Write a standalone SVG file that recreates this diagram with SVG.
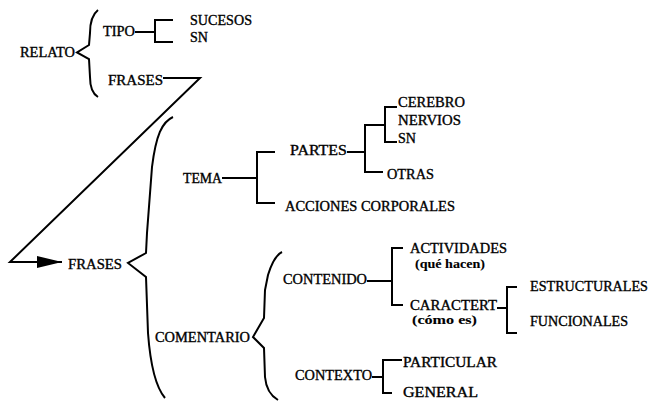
<svg xmlns="http://www.w3.org/2000/svg" width="652" height="401" viewBox="0 0 652 401">
  <style>
    text { font-family: 'Liberation Serif', 'Times New Roman', Times, 'DejaVu Serif', serif; fill: #000; stroke: #000; stroke-width: 0.35; }
    .t { font-size: 14px; }
    .s { font-size: 12px; font-weight: bold; stroke-width: 0.1; }
    .ln { fill: none; stroke: #000; stroke-width: 2; stroke-linejoin: miter; stroke-linecap: butt; }
  </style>
  <defs>
    <marker id="arrow" viewBox="0 0 25 12" refX="25" refY="6" markerWidth="25" markerHeight="12" markerUnits="userSpaceOnUse" orient="auto">
      <path d="M0,0 L25,6 L0,12 Z" fill="#000"/>
    </marker>
  </defs>
  <rect width="652" height="401" fill="#fff"/>

  <!-- connectors, braces and brackets -->
  <g id="connectors">
    <!-- RELATO brace -->
    <path class="ln" d="M98,10 C93,14 90,22 90,33 L89,45 L77,52.5 L89,59 L90,77 C90,88 93,94 98,97"/>
    <!-- TIPO bracket -->
    <path class="ln" d="M135,32 H155"/>
    <path class="ln" d="M173,20 H155 V42 H173"/>
    <!-- FRASES loop back to the second FRASES -->
    <path class="ln" d="M163,78 H200 L10,262 H62" marker-end="url(#arrow)"/>
    <!-- FRASES brace -->
    <path class="ln" d="M173,117 C162,122 156,135 152,167 L147,233 L146,253 L128,263 L146,277 L148,333 C150,360 154,385 165,398"/>
    <!-- TEMA bracket -->
    <path class="ln" d="M222,178 H257"/>
    <path class="ln" d="M275,152 H257 V203 H275"/>
    <!-- PARTES bracket -->
    <path class="ln" d="M347,152 H365"/>
    <path class="ln" d="M385,125 H365 V172 H383"/>
    <!-- CEREBRO / NERVIOS / SN bracket -->
    <path class="ln" d="M397,107 H385 V142 H397"/>
    <!-- COMENTARIO brace -->
    <path class="ln" d="M282,252 C276,255 272,262 268,275 L265,290 L264,318 L253,337 L264,348 L265,377 C266,388 271,396 278,400"/>
    <!-- CONTENIDO bracket -->
    <path class="ln" d="M367,281 H392"/>
    <path class="ln" d="M403,248 H392 V305 H403"/>
    <!-- CARACTERT bracket -->
    <path class="ln" d="M497,308 H507"/>
    <path class="ln" d="M517,287 H507 V333 H517"/>
    <!-- CONTEXTO bracket -->
    <path class="ln" d="M372,377 H383"/>
    <path class="ln" d="M402,360 H383 V393 H392"/>
  </g>

  <g id="relato"><text class="t" x="20" y="57" textLength="55" lengthAdjust="spacingAndGlyphs">RELATO</text></g>
  <g id="tipo"><text class="t" x="103" y="36" textLength="32" lengthAdjust="spacingAndGlyphs">TIPO</text></g>
  <g id="sucesos"><text class="t" x="190" y="25" textLength="62" lengthAdjust="spacingAndGlyphs">SUCESOS</text></g>
  <g id="sn1"><text class="t" x="190" y="42" textLength="18" lengthAdjust="spacingAndGlyphs">SN</text></g>
  <g id="frases1"><text class="t" x="108" y="85" textLength="55" lengthAdjust="spacingAndGlyphs">FRASES</text></g>

  <g id="frases2"><text class="t" x="68" y="269" textLength="54" lengthAdjust="spacingAndGlyphs">FRASES</text></g>

  <g id="tema"><text class="t" x="183" y="183" textLength="39" lengthAdjust="spacingAndGlyphs">TEMA</text></g>
  <g id="partes"><text class="t" x="290" y="155" textLength="57" lengthAdjust="spacingAndGlyphs">PARTES</text></g>
  <g id="cerebro"><text class="t" x="398" y="106.5" textLength="67" lengthAdjust="spacingAndGlyphs">CEREBRO</text></g>
  <g id="nervios"><text class="t" x="398" y="124.5" textLength="63" lengthAdjust="spacingAndGlyphs">NERVIOS</text></g>
  <g id="sn2"><text class="t" x="398" y="142.5" textLength="18" lengthAdjust="spacingAndGlyphs">SN</text></g>
  <g id="otras"><text class="t" x="387" y="179" textLength="47" lengthAdjust="spacingAndGlyphs">OTRAS</text></g>
  <g id="acciones"><text class="t" x="285" y="210.5" textLength="170" lengthAdjust="spacingAndGlyphs">ACCIONES CORPORALES</text></g>

  <g id="comentario"><text class="t" x="155" y="342" textLength="95" lengthAdjust="spacingAndGlyphs">COMENTARIO</text></g>
  <g id="contenido"><text class="t" x="283" y="284" textLength="84" lengthAdjust="spacingAndGlyphs">CONTENIDO</text></g>
  <g id="actividades">
    <text class="t" x="410" y="253" textLength="97" lengthAdjust="spacingAndGlyphs">ACTIVIDADES</text>
    <text class="s" x="415" y="268" textLength="70" lengthAdjust="spacingAndGlyphs">(qué hacen)</text>
  </g>
  <g id="caractert">
    <text class="t" x="410" y="310" textLength="87" lengthAdjust="spacingAndGlyphs">CARACTERT</text>
    <text class="s" x="412" y="324" textLength="65" lengthAdjust="spacingAndGlyphs">(cómo es)</text>
  </g>
  <g id="estructurales"><text class="t" x="530" y="291" textLength="118" lengthAdjust="spacingAndGlyphs">ESTRUCTURALES</text></g>
  <g id="funcionales"><text class="t" x="530" y="326" textLength="98" lengthAdjust="spacingAndGlyphs">FUNCIONALES</text></g>
  <g id="contexto"><text class="t" x="295" y="380" textLength="77" lengthAdjust="spacingAndGlyphs">CONTEXTO</text></g>
  <g id="particular"><text class="t" x="403" y="367" textLength="94" lengthAdjust="spacingAndGlyphs">PARTICULAR</text></g>
  <g id="general"><text class="t" x="403" y="397" textLength="75" lengthAdjust="spacingAndGlyphs">GENERAL</text></g>
</svg>
